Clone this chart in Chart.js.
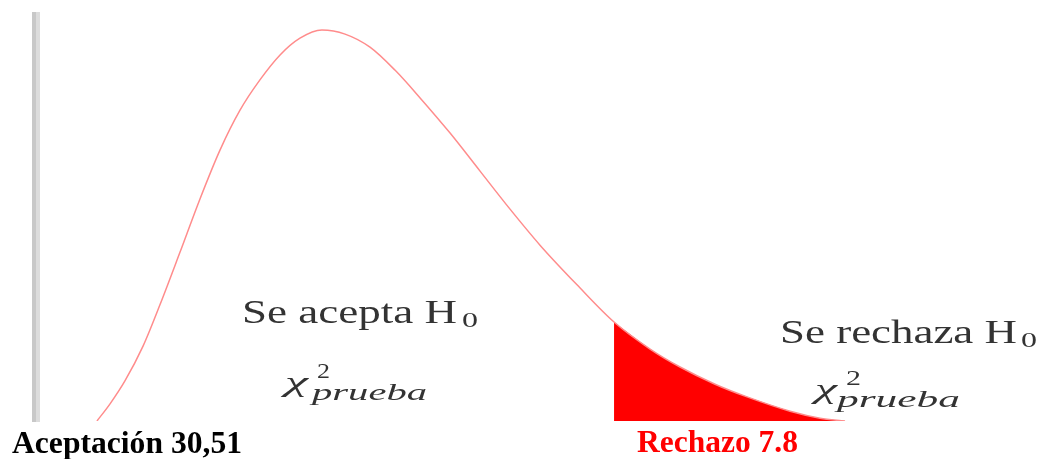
<!DOCTYPE html>
<html><head><meta charset="utf-8">
<script src="https://cdn.jsdelivr.net/npm/chart.js@4.4.1/dist/chart.umd.min.js"></script>
<style>html,body{margin:0;padding:0;background:#fff;overflow:hidden}</style>
</head><body>
<canvas id="c" width="1042" height="459"></canvas>
<script>
// Chi-square statistic values (x) and density (y)
const chiValues = [3.03, 3.68, 4.42, 5.32, 6.16, 7.16, 8.15, 9.15, 10.14, 11.13, 12.13, 13.12, 14.21, 15.36, 16.60, 17.84, 19.09, 20.58, 22.07, 23.56, 25.05, 26.89, 28.73, 30.52, 32.01, 33.75, 35.34, 37.48, 38.97, 40.21];
const density   = [0, 0.0042, 0.0098, 0.0183, 0.0284, 0.0413, 0.0543, 0.0663, 0.0760, 0.0834, 0.0895, 0.0936, 0.0956, 0.0946, 0.0914, 0.0858, 0.0790, 0.0704, 0.0611, 0.0518, 0.0430, 0.0333, 0.0242, 0.0176, 0.0132, 0.0090, 0.0059, 0.0024, 0.0007, 0];
const rejectionStart = 28.73;
const regionLabels = ["Se acepta H", "Se rechaza H"];
const hypothesisSub = "0";
const statSymbol = "χ";
const statSup = "2";
const statSub = "prueba";
const bottomLabels = ["Aceptación 30,51", "Rechazo 7.8"];

const curve = chiValues.map((x, i) => ({x, y: density[i]}));
const rejection = curve.filter(p => p.x >= rejectionStart);

function fitText(ctx, txt, x, y, font, color, w) {
  ctx.save();
  ctx.font = font;
  ctx.fillStyle = color;
  ctx.textBaseline = 'alphabetic';
  ctx.textAlign = 'left';
  const m = ctx.measureText(txt).width;
  ctx.translate(x, y);
  ctx.scale(w / m, 1);
  ctx.fillText(txt, 0, 0);
  ctx.restore();
}

const decor = {
  id: 'decor',
  beforeDatasetsDraw(chart) {
    const {ctx, chartArea: a} = chart;
    ctx.save();
    ctx.fillStyle = '#c8c8c8';
    ctx.fillRect(a.left - 4, a.top, 4, a.bottom - a.top + 1);
    ctx.fillStyle = '#dcdcdc';
    ctx.fillRect(a.left, a.top, 4, a.bottom - a.top + 1);
    ctx.restore();
  },
  afterDraw(chart) {
    const ctx = chart.ctx;
    const serif = '"Liberation Serif", "Times New Roman", serif';
    const txt = '#333333';
    // region labels
    fitText(ctx, regionLabels[0], 242, 323, '34px ' + serif, txt, 215);
    fitText(ctx, hypothesisSub, 462, 327, '20px ' + serif, txt, 16);
    fitText(ctx, regionLabels[1], 780, 343, '34px ' + serif, txt, 237);
    fitText(ctx, hypothesisSub, 1021, 347, '20px ' + serif, txt, 16);
    // chi-square statistic labels
    fitText(ctx, statSymbol, 285, 391, 'italic 28px ' + serif, txt, 23);
    fitText(ctx, statSup, 317, 378, '22px ' + serif, txt, 13);
    fitText(ctx, statSub, 312, 400, 'italic 24px ' + serif, txt, 115);
    fitText(ctx, statSymbol, 815, 398, 'italic 28px ' + serif, txt, 22);
    fitText(ctx, statSup, 846, 385, '22px ' + serif, txt, 15);
    fitText(ctx, statSub, 837, 407, 'italic 24px ' + serif, txt, 123);
    // bottom labels
    fitText(ctx, bottomLabels[0], 12, 453, 'bold 31px ' + serif, '#000000', 230);
    fitText(ctx, bottomLabels[1], 637, 452, 'bold 31px ' + serif, '#ff0000', 161);
  }
};

new Chart(document.getElementById('c'), {
  type: 'line',
  data: {
    datasets: [
      {
        data: curve,
        borderColor: 'rgb(255,140,140)',
        borderWidth: 1.5,
        pointRadius: 0,
        fill: false,
        cubicInterpolationMode: 'monotone',
        order: 1
      },
      {
        data: rejection,
        borderColor: '#ff0000',
        borderWidth: 0,
        backgroundColor: '#ff0000',
        pointRadius: 0,
        fill: 'origin',
        cubicInterpolationMode: 'monotone',
        order: 2
      }
    ]
  },
  options: {
    responsive: false,
    animation: false,
    devicePixelRatio: 1,
    layout: {padding: {left: 36, top: 12, right: 0, bottom: 38}},
    plugins: {legend: {display: false}, tooltip: {enabled: false}},
    scales: {
      x: {type: 'linear', min: 0, max: 50, display: false},
      y: {min: 0, max: 0.1, display: false}
    }
  },
  plugins: [decor]
});
</script>
</body></html>
